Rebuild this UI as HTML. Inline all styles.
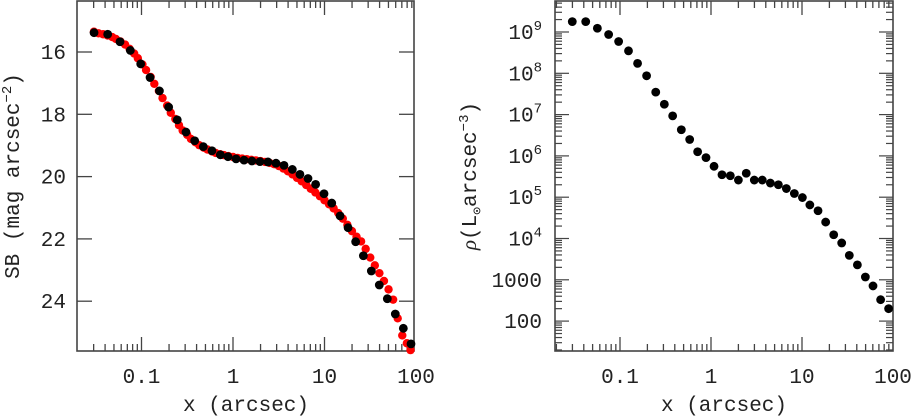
<!DOCTYPE html>
<html><head><meta charset="utf-8">
<style>
html,body{margin:0;padding:0;background:#fff;}
svg{display:block;}
text{font-family:"Liberation Mono","DejaVu Sans Mono",monospace;fill:#222;}
</style></head>
<body>
<svg id="chart" width="913" height="417" viewBox="0 0 913 417" xmlns="http://www.w3.org/2000/svg"></svg>
<script>
// ---- Left panel data (surface brightness) ----
const sbBlackX = [0.0303,0.0427,0.0582,0.0755,0.098,0.124,0.157,0.198,0.246,0.306,0.381,0.474,0.589,0.727,0.881,1.08,1.32,1.61,1.97,2.41,2.95,3.61,4.45,5.39,6.60,8.00,9.88,12.0,14.8,18.1,21.9,26.6,32.5,39.7,48.6,59.4,72.7,88.2];
const sbBlackY = [15.38,15.43,15.67,15.95,16.38,16.82,17.25,17.77,18.18,18.57,18.85,19.04,19.17,19.30,19.36,19.43,19.47,19.50,19.52,19.53,19.57,19.64,19.77,19.93,20.06,20.25,20.55,20.85,21.26,21.64,22.09,22.54,23.03,23.48,23.92,24.41,24.87,25.37];
const sbRedLogX = [-1.52,-1.47,-1.42,-1.37,-1.32,-1.28,-1.23,-1.18,-1.13,-1.08,-1.04,-0.99,-0.95,-0.90,-0.86,-0.81,-0.77,-0.72,-0.68,-0.63,-0.59,-0.55,-0.50,-0.46,-0.41,-0.37,-0.32,-0.28,-0.23,-0.19,-0.14,-0.10,-0.05,0,0.05,0.1,0.15,0.2,0.25,0.3,0.35,0.4,0.45,0.5,0.55,0.6,0.65,0.7,0.75,0.8,0.85,0.9,0.95,1.0,1.05,1.1,1.15,1.2,1.25,1.3,1.35,1.4,1.45,1.5,1.55,1.6,1.65,1.7,1.75,1.8,1.85,1.9,1.94];
const sbRedY = [15.35,15.40,15.43,15.47,15.52,15.58,15.66,15.76,15.90,16.05,16.20,16.40,16.58,16.80,17.02,17.25,17.48,17.72,17.95,18.15,18.35,18.52,18.66,18.79,18.90,18.99,19.07,19.13,19.19,19.24,19.28,19.31,19.34,19.37,19.40,19.42,19.44,19.46,19.48,19.50,19.53,19.56,19.60,19.66,19.74,19.83,19.93,20.04,20.15,20.27,20.39,20.51,20.63,20.76,20.89,21.02,21.17,21.35,21.55,21.75,21.93,22.08,22.32,22.60,22.85,23.10,23.35,23.62,23.95,24.55,25.10,25.35,25.57];
const sbTicks = [16,18,20,22,24];
const xTicks = [0.1,1,10,100];
const xTickLabels = ["0.1","1","10","100"];
// ---- Right panel data (density) ----
const rhoX = [0.0299,0.0420,0.0564,0.0750,0.0966,0.124,0.156,0.196,0.247,0.307,0.379,0.472,0.583,0.713,0.881,1.08,1.32,1.63,2.00,2.44,2.99,3.66,4.49,5.50,6.73,8.24,10.1,12.2,15.0,18.2,22.3,27.3,33.1,40.6,49.7,60.3,73.1,89.5];
const rhoY = [1.78e9,1.78e9,1.23e9,8.7e8,5.9e8,3.5e8,1.74e8,8.7e7,3.5e7,1.78e7,9.3e6,4.3e6,2.5e6,1.26e6,9.1e5,5.6e5,3.5e5,3.3e5,2.6e5,3.8e5,2.6e5,2.6e5,2.2e5,2.0e5,1.62e5,1.23e5,9.8e4,6.5e4,4.7e4,2.5e4,1.23e4,7.8e3,3.9e3,2.3e3,1.17e3,7.1e2,3.3e2,2.0e2];
const rhoTicks = [9,8,7,6,5,4,3,2];
const rhoTickLabels = ["10|9","10|8","10|7","10|6","10|5","10|4","1000","100"];

const NS="http://www.w3.org/2000/svg";
const svg=document.getElementById('chart');
function mk(tag,attrs,parent){const e=document.createElementNS(NS,tag);for(const k in attrs)e.setAttribute(k,attrs[k]);(parent||svg).appendChild(e);return e;}

const L={x0:77,x1:414,y0:1,y1:351};
const lx=v=>233+91.5*Math.log10(v);
const lxl=lg=>233+91.5*lg;
const ly=m=>52+31.15*(m-16);
const R={x0:555,x1:893,y0:1,y1:351};
const rx=v=>711+91*Math.log10(v);
const ry=v=>32+41.3*(9-Math.log10(v));
const ryl=lg=>32+41.3*(9-lg);

function frame(F,name){
  const g=mk('g',{});
  
  
  mk('rect',{x:F.x0,y:F.y0,width:F.x1-F.x0,height:F.y1-F.y0,fill:'none',stroke:'#444','stroke-width':1.6},g);
  return g;
}
function xAxisTicks(F,xf,g){
  for(let d=-2;d<=2;d++){for(let m=1;m<=9;m++){
    const v=m*Math.pow(10,d);const X=xf(v);
    if(X<F.x0+1||X>F.x1-1)continue;
    const len=m===1?14:7;
    mk('line',{x1:X,x2:X,y1:F.y1,y2:F.y1-len,stroke:'#444','stroke-width':1.3},g);
    mk('line',{x1:X,x2:X,y1:F.y0,y2:F.y0+len,stroke:'#444','stroke-width':1.3},g);
  }}
  xTicks.forEach((v,i)=>{
    const t=mk('text',{x:xf(v),y:F.y1+32,'font-size':21,'text-anchor':'middle'},g);
    
    
    t.textContent=xTickLabels[i];
  });
}

const gl=frame(L,'left-panel-frame');
xAxisTicks(L,lx,gl);
sbTicks.forEach(m=>{
  const Y=ly(m);
  mk('line',{x1:L.x0,x2:L.x0+15,y1:Y,y2:Y,stroke:'#444','stroke-width':1.3},gl);
  mk('line',{x1:L.x1,x2:L.x1-15,y1:Y,y2:Y,stroke:'#444','stroke-width':1.3},gl);
  const t=mk('text',{x:66,y:Y+7,'font-size':21,'text-anchor':'end'},gl);
  
  
  t.textContent=m;
});
const xl1=mk('text',{x:246,y:411,'font-size':21,'text-anchor':'middle'});


xl1.textContent='x (arcsec)';
const yl1=mk('text',{x:0,y:0,'font-size':21,'text-anchor':'middle',transform:'translate(19,176) rotate(-90)'});


yl1.innerHTML='SB (mag arcsec<tspan font-size="14" dy="-8">−2</tspan><tspan dy="8">)</tspan>';

const redG=mk('g',{});


sbRedLogX.forEach((lg,i)=>{
  const c=mk('circle',{cx:lxl(lg),cy:ly(sbRedY[i]),r:4.2,fill:'#f00'},redG);
  
  
});
const blkG=mk('g',{});


sbBlackX.forEach((v,i)=>{
  const c=mk('circle',{cx:lx(v),cy:ly(sbBlackY[i]),r:4.4,fill:'#000'},blkG);
  
  
});

const gr=frame(R,'right-panel-frame');
xAxisTicks(R,rx,gr);
for(let d=1;d<=9;d++){for(let m=1;m<=9;m++){
  const Y=ry(m*Math.pow(10,d));
  if(Y<R.y0+1||Y>R.y1-1)continue;
  const len=m===1?14:7;
  mk('line',{x1:R.x0,x2:R.x0+len,y1:Y,y2:Y,stroke:'#444','stroke-width':1.2},gr);
  mk('line',{x1:R.x1,x2:R.x1-len,y1:Y,y2:Y,stroke:'#444','stroke-width':1.2},gr);
}}
rhoTicks.forEach((lg,i)=>{
  const Y=ryl(lg);
  const t=mk('text',{x:542,y:Y+7,'font-size':21,'text-anchor':'end'},gr);
  
  
  const lab=rhoTickLabels[i];
  if(lab.includes('|')){const p=lab.split('|');t.innerHTML=p[0]+'<tspan font-size="14" dy="-9">'+p[1]+'</tspan>';}
  else t.textContent=lab;
});
const xl2=mk('text',{x:724,y:411,'font-size':21,'text-anchor':'middle'});


xl2.textContent='x (arcsec)';
const yl2=mk('text',{x:0,y:0,'font-size':21,'text-anchor':'middle',transform:'translate(476,176) rotate(-90)'});


yl2.innerHTML='<tspan font-family="Liberation Serif" font-style="italic">ρ</tspan>(L<tspan font-size="13" dy="5">⊙</tspan><tspan dy="-5">arcsec</tspan><tspan font-size="14" dy="-8">−3</tspan><tspan dy="8">)</tspan>';

const rG=mk('g',{});


rhoX.forEach((v,i)=>{
  const c=mk('circle',{cx:rx(v),cy:ry(rhoY[i]),r:4.4,fill:'#000'},rG);
  
  
});
</script>
</body></html>
